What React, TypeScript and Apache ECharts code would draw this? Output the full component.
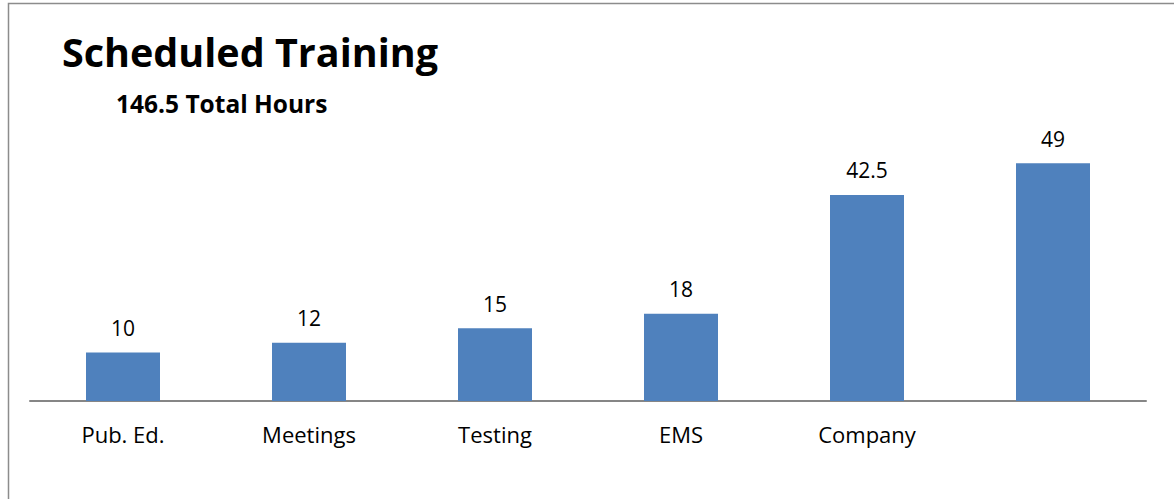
import React, { useEffect, useRef } from "react";
import * as echarts from "echarts";

const categories = ["Pub. Ed.", "Meetings", "Testing", "EMS", "Company", ""];
const hours = [10, 12, 15, 18, 42.5, 49];
const titleText = "Scheduled Training";
const subtitleText = "146.5 Total Hours";

const FONT = "'Open Sans', 'Noto Sans', sans-serif";

export default function App() {
  const ref = useRef<HTMLDivElement>(null);
  useEffect(() => {
    if (!ref.current) return;
    const chart = echarts.init(ref.current, null, { renderer: "svg" });
    chart.setOption({
      animation: false,
      backgroundColor: "#ffffff",
      graphic: [
        {
          type: "rect",
          shape: { x: 8.5, y: 3.5, width: 1170, height: 510 },
          style: { fill: "none", stroke: "#8c8c8c", lineWidth: 1.5 },
          silent: true,
        },
        {
          type: "text",
          left: 62,
          top: 32,
          style: {
            text: titleText,
            font: `bold 39.5px ${FONT}`,
            fill: "#000000",
          },
        },
        {
          type: "text",
          left: 116,
          top: 91,
          style: {
            text: subtitleText,
            font: `bold 24.5px ${FONT}`,
            fill: "#000000",
          },
        },
      ],
      grid: { left: 30, width: 1116, top: 110, bottom: 98, containLabel: false },
      xAxis: {
        type: "category",
        data: categories,
        axisLine: { show: true, lineStyle: { color: "#868686", width: 2 } },
        axisTick: { show: false },
        axisLabel: {
          color: "#000000",
          fontFamily: FONT,
          fontSize: 22,
          margin: 22,
          interval: 0,
        },
        splitLine: { show: false },
      },
      yAxis: {
        type: "value",
        min: 0,
        max: 60,
        show: false,
        splitLine: { show: false },
      },
      series: [
        {
          type: "bar",
          data: hours,
          barWidth: 74,
          itemStyle: { color: "#4F81BD" },
          label: {
            show: true,
            position: "top",
            distance: 14,
            color: "#000000",
            fontFamily: FONT,
            fontSize: 21,
          },
        },
      ],
    });
    return () => chart.dispose();
  }, []);
  return (
    <div
      ref={ref}
      style={{ position: "fixed", left: 0, top: 0, width: 1174, height: 499 }}
    />
  );
}
